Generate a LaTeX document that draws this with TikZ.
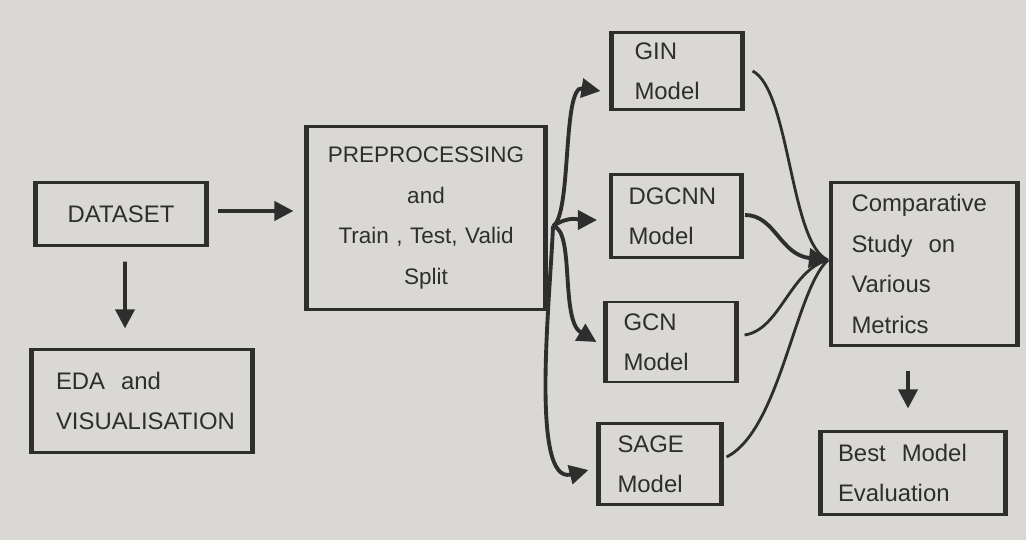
\documentclass[tikz,border=0pt]{standalone}
\usepackage{fontspec}
\setmainfont{Liberation Sans}
\usetikzlibrary{arrows.meta}
\definecolor{paper}{HTML}{D9D8D5}
\definecolor{ink}{HTML}{2E2E2E}
\begin{document}
\begin{tikzpicture}
    \tikzstyle{arrow} = [->,>={Triangle[length=1.9mm,width=1.9mm]},
        line width=1.1pt, draw=ink]
    \tikzstyle{curve} = [line width=0.8pt, draw=ink]
    \tikzstyle{rec} = [rectangle, draw=ink, line width=0.6pt, align=left,
        inner sep=0pt, text=ink, font=\fontsize{6.8}{11.5}\selectfont]
    \tikzstyle{side} = [line width=1.4pt, draw=ink]

    \fill[paper] (0,0) rectangle (10.26,5.40);
    \useasboundingbox (0,0) rectangle (10.26,5.40);

    \node(dataset) [rec, minimum width=1.68cm, minimum height=0.63cm,
        align=center]
        at (1.21,3.26)
        {DATASET};
    \node(eda) [rec, minimum width=2.19cm, minimum height=1.03cm,
        text width=1.72cm]
        at (1.42,1.39)
        {EDA\ \ and\\ VISUALISATION};
    \node(prep) [rec, minimum width=2.37cm, minimum height=1.83cm,
        text width=2.2cm, align=center,
        font=\fontsize{6.4}{11.5}\selectfont]
        at (4.26,3.22)
        {PREPROCESSING\\ and\\ Train , Test, Valid\\ Split};
    \node(gin) [rec, minimum width=1.29cm, minimum height=0.77cm,
        text width=0.85cm]
        at (6.77,4.69)
        {GIN\\ Model};
    \node(dgcnn) [rec, minimum width=1.28cm, minimum height=0.83cm,
        text width=0.95cm]
        at (6.76,3.24)
        {DGCNN\\ Model};
    \node(gcn) [rec, minimum width=1.29cm, minimum height=0.80cm,
        text width=0.95cm]
        at (6.71,1.98)
        {GCN\\ Model};
    \node(sage) [rec, minimum width=1.21cm, minimum height=0.81cm,
        text width=0.85cm]
        at (6.60,0.76)
        {SAGE\\ Model};
    \node(comp) [rec, minimum width=1.84cm, minimum height=1.63cm,
        text width=1.45cm]
        at (9.24,2.76)
        {Comparative\\ Study\ \ on\\ Various\\ Metrics};
    \node(best) [rec, minimum width=1.83cm, minimum height=0.83cm,
        text width=1.5cm]
        at (9.13,0.67)
        {Best\ \ Model\\ Evaluation};

    \foreach \n in {dataset,eda,prep,gin,dgcnn,gcn,sage,comp,best}
        \draw[side] (\n.north west) -- (\n.south west)
            (\n.north east) -- (\n.south east);

    \coordinate (split) at (5.53,3.14);
    \coordinate (meet) at (8.28,2.80);

    \draw[arrow, shorten <=1.2mm, shorten >=1.3mm]
        ([yshift=0.3mm]dataset.east) -- ([yshift=0.7mm]prep.west);
    \draw[arrow, shorten <=1.5mm, shorten >=2mm]
        ([xshift=0.4mm]dataset.south) -- ([xshift=-1.7mm]eda.north);
    \draw[arrow, shorten <=2.4mm, shorten >=2.2mm]
        ([xshift=-1.6mm]comp.south) -- ([xshift=-0.5mm]best.north);

    \draw[arrow] (split) .. controls (5.72,3.25) and (5.62,4.55)
        .. ([xshift=-1.1mm,yshift=-2mm]gin.west);
    \draw[arrow] (split) .. controls (5.70,3.25) and (5.80,3.20)
        .. ([xshift=-1.4mm,yshift=-0.4mm]dgcnn.west);
    \draw[arrow] (split) .. controls (5.75,3.10) and (5.60,2.20)
        .. ([xshift=-0.9mm]gcn.west);
    \draw[arrow] (split) .. controls (5.50,2.40) and (5.30,0.55)
        .. ([xshift=-1.0mm,yshift=-0.6mm]sage.west);

    \draw[curve] ([xshift=1mm]gin.east) .. controls (7.90,4.50) and (7.90,2.95)
        .. (meet);
    \draw[arrow] ([xshift=0.4mm,yshift=0.1mm]dgcnn.east)
        .. controls (7.75,3.25) and (7.80,2.85) .. (meet);
    \draw[curve] ([xshift=0.8mm,yshift=0.7mm]gcn.east)
        .. controls (7.80,2.10) and (7.90,2.70) .. (meet);
    \draw[curve] ([xshift=0.5mm,yshift=0.7mm]sage.east)
        .. controls (7.80,1.10) and (7.95,2.50) .. (meet);
\end{tikzpicture}
\end{document}
